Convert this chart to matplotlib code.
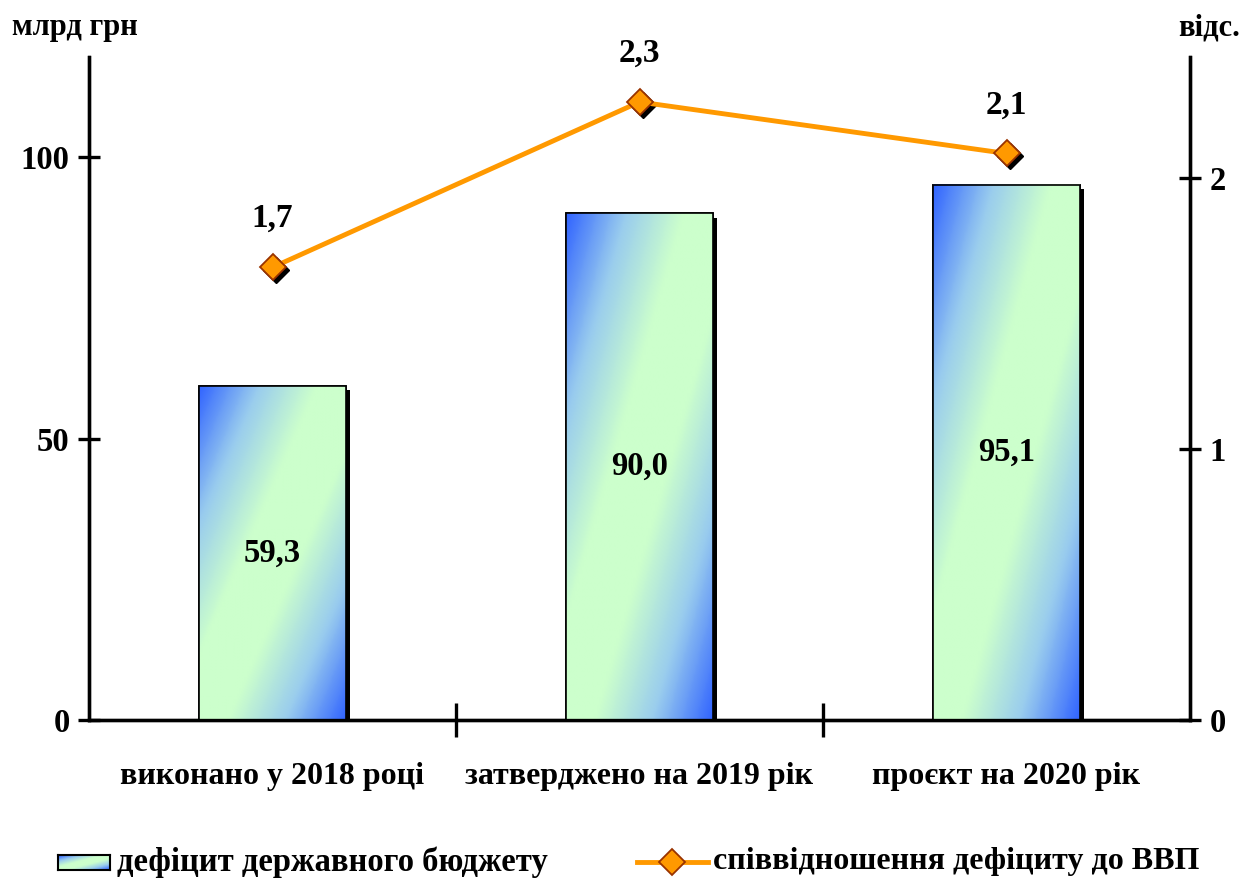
import matplotlib
matplotlib.use("Agg")
import matplotlib.pyplot as plt
import matplotlib.patheffects as pe
import matplotlib.transforms as mtransforms
from matplotlib.colors import LinearSegmentedColormap
from matplotlib.lines import Line2D
import numpy as np

categories = ["виконано у 2018 році", "затверджено на 2019 рік", "проєкт на 2020 рік"]
deficit = [59.3, 90.0, 95.1]          # млрд грн
deficit_gdp = [1.67, 2.28, 2.09]      # відс. до ВВП
left_ticks = [0, 50, 100]
right_ticks = [0, 1, 2]

plt.rcParams["font.family"] = ["Liberation Serif", "DejaVu Serif"]
plt.rcParams["font.weight"] = "bold"

BLUE = "#3366FF"
GREEN = "#CCFFCC"
ORANGE = "#FF9900"
cmap = LinearSegmentedColormap.from_list("bar", [BLUE, "#99CCEE", GREEN, GREEN, "#99CCEE", BLUE])


def gradient(nx=60, ny=120):
    xs = np.linspace(0, 1, nx)
    ys = np.linspace(0, 1, ny)
    X, Y = np.meshgrid(xs, ys)
    # top-left and bottom-right blue, light band across the middle diagonal
    return (X + Y) / 2.0


fig = plt.figure(figsize=(12.46, 8.81), dpi=100)
ax = fig.add_axes([89 / 1246, 1 - 720 / 881, (1190 - 89) / 1246, (720 - 57) / 881])
ax2 = ax.twinx()

x = np.arange(len(categories))
width = 0.4
grad = gradient()
for xi, val in zip(x, deficit):
    rect = plt.Rectangle((xi - width / 2, 0), width, val, facecolor="none",
                         edgecolor="black", linewidth=1.2, zorder=3,
                         path_effects=[pe.SimplePatchShadow(offset=(3, -3), shadow_rgbFace="black", alpha=1),
                                       pe.Normal()])
    ax.add_patch(rect)
    ax.imshow(grad, extent=[xi - width / 2, xi + width / 2, 0, val], origin="upper",
              cmap=cmap, aspect="auto", zorder=3, interpolation="bilinear")
    ax.add_patch(plt.Rectangle((xi - width / 2, 0), width, val, facecolor="none",
                               edgecolor="black", linewidth=1.2, zorder=4))
    ax.text(xi, val / 2, f"{val:.1f}".replace(".", ","), ha="center", va="center",
            fontsize=23.5, fontweight="bold", zorder=5)

ax.set_xlim(-0.5, 2.5)
ax.set_ylim(0, 117.8)
ax2.set_ylim(0, 2.446)

# line with shadowed markers
shadow = mtransforms.offset_copy(ax2.transData, fig=fig, x=3, y=-3, units="dots")
ax2.plot(x, deficit_gdp, linestyle="none", marker="D", markersize=13,
         color="black", transform=shadow, zorder=5)
ax2.plot(x, deficit_gdp, color=ORANGE, linewidth=3.5, marker="D", markersize=13,
         markerfacecolor=ORANGE, markeredgecolor="#993300", markeredgewidth=1.3, zorder=6)
for xi, v in zip(x, deficit_gdp):
    ax2.annotate(f"{v:.1f}".replace(".", ","), (xi, v), xytext=(0, 35),
                 textcoords="offset points", ha="center", va="center",
                 fontsize=24, fontweight="bold")

for a in (ax, ax2):
    for s in a.spines.values():
        s.set_linewidth(2.4)
    a.spines["top"].set_visible(False)

ax.set_yticks(left_ticks)
ax2.set_yticks(right_ticks)
ax.tick_params(axis="y", direction="inout", length=16, width=2.4, labelsize=23.5, pad=6)
ax2.tick_params(axis="y", direction="inout", length=16, width=2.4, labelsize=23.5, pad=6)
for lab in ax.get_yticklabels() + ax2.get_yticklabels():
    lab.set_fontweight("bold")

ax.set_xticks(x)
ax.set_xticklabels(categories, fontsize=23, fontweight="bold")
ax.tick_params(axis="x", which="major", length=0, pad=30)
ax.set_xticks([0.5, 1.5], minor=True)
ax.tick_params(axis="x", which="minor", direction="inout", length=24, width=2.4)

fig.text(12 / 1246, 1 - 28 / 881, "млрд грн", fontsize=22, fontweight="bold", va="center", ha="left")
fig.text(1240 / 1246, 1 - 28 / 881, "відс.", fontsize=22, fontweight="bold", va="center", ha="right")

# legend
lax = fig.add_axes([58 / 1246, 1 - 870 / 881, 52 / 1246, 15 / 881])
lax.imshow(gradient(30, 10), cmap=cmap, aspect="auto", origin="upper", interpolation="bilinear")
lax.set_xticks([])
lax.set_yticks([])
for s in lax.spines.values():
    s.set_linewidth(1.5)
fig.text(117 / 1246, 1 - 862 / 881, "дефіцит державного бюджету", fontsize=23.5,
         fontweight="bold", va="center", ha="left")
fig.add_artist(Line2D([637 / 1246, 708 / 1246], [1 - 862 / 881] * 2, color=ORANGE, linewidth=3.5,
                      transform=fig.transFigure))
fig.add_artist(Line2D([672 / 1246], [1 - 862 / 881], marker="D", markersize=13, color=ORANGE,
                      markeredgecolor="#993300", markeredgewidth=1.3, transform=fig.transFigure))
fig.text(713 / 1246, 1 - 862 / 881, "співвідношення дефіциту до ВВП", fontsize=23,
         fontweight="bold", va="center", ha="left")

fig.savefig("out.png", dpi=100)
